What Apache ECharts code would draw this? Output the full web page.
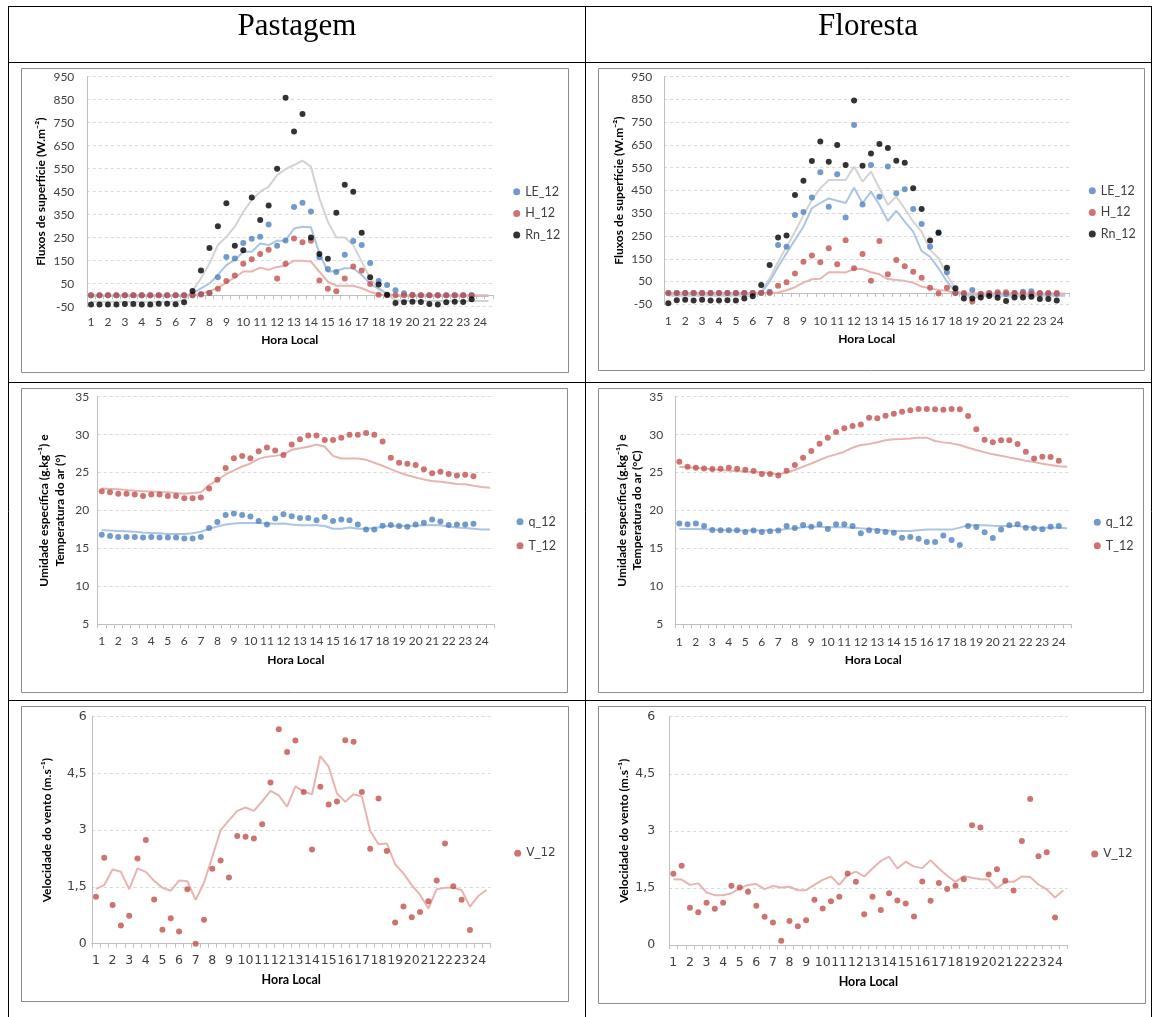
<!DOCTYPE html>
<html><head><meta charset="utf-8">
<script src="https://cdn.jsdelivr.net/npm/echarts@6/dist/echarts.min.js"></script>
<style>html,body{margin:0;padding:0;background:#fff}#c{width:1153px;height:1017px}</style>
</head><body><div id="c"></div>
<script>
// ---------- DATA ----------
const hourLabels = ["1","1:30","2","2:30","3","3:30","4","4:30","5","5:30","6","6:30","7","7:30","8","8:30","9","9:30","10","10:30","11","11:30","12","12:30","13","13:30","14","14:30","15","15:30","16","16:30","17","17:30","18","18:30","19","19:30","20","20:30","21","21:30","22","22:30","23","23:30","24","24:30"];
const headerTitles = ["Pastagem", "Floresta"];

// Pastagem - fluxos
const pastLE = [0,0,0,0,0,0,0,0,0,0,0,0, 0,5,10,78,166,160,227,245,254,307,215,238, 383,402,364,165,114,101,176,236,218,140,62,44,22,9,2,0,0,0,0,0,0,0, null,null];
const pastH  = [0,0,0,0,0,0,0,0,0,0,0,0, 0,3,10,28,62,86,137,156,179,198,73,137, 247,230,237,64,28,17,73,125,107,49,2,0,0,0,0,0,0,0,0,0,0,0, null,null];
const pastRn = [-40,-40,-40,-40,-38,-38,-40,-40,-37,-37,-39,-31, 18,107,205,300,400,215,195,425,327,390,550,858, 712,788,251,179,159,359,480,450,272,78,47,2,-34,-31,-28,-30,-38,-40,-31,-28,-30,-18, null,null];
const pastRnLine = [-28,-28,-28,-28,-28,-28,-28,-28,-28,-28,-27,-22, 18,73,138,218,254,298,363,414,450,472,522,548, 566,585,559,421,320,251,251,218,146,73,34,0,-21,-25,-25,-25,-25,-25,-25,-25,-25,-25,-25,-25];
const pastLELine = [-3,-3,-3,-3,-3,-3,-3,-3,-3,-3,-3,-3, 8,30,51,88,131,153,189,189,225,218,237,237, 290,298,295,182,102,105,117,117,88,51,27,8, -3,-3,-3,-3,-3,-3,-3,-3,-3,-3,-3,-3];
const pastHLine  = [0,0,0,0,0,0,0,0,0,0,0,0,0, 7,17,32,55,77,103,103,120,110,123,128, 150,150,146,102,59,41,41,41,30,15,3, 0,0,0,0,0,0,0,0,0,0,0,0,0];

// Floresta - fluxos
const florLE = [0,0,0,0,0,0,0,0,0,0,0,0, 5,211,203,342,356,419,530,379,521,331,738,389, 562,423,555,438,455,369,303,203,262,91,0,-5,13,-5,-3,-3,-5,0,5,7,-3,-3,-5, null];
const florH  = [0,0,0,0,0,0,0,0,0,0,0,0,0, 32,47,85,137,164,135,196,126,231,108,171, 53,228,82,145,117,93,67,23,-2,23,0,0,-38,-5,0,3,3,0,0,-3,0,0,0, null];
const florRn = [-45,-32,-30,-33,-30,-33,-33,-32,-33,-25,-15, 35,123,243,252,430,493,580,665,576,650,562,845,559, 613,654,637,581,572,460,369,230,266,111,20,-24,-24,-20,-13,-21,-35,-20,-20,-17,-27,-27,-33, null];
const florRnLine = [-12,-12,-12,-12,-12,-12,-12,-12,-12,-12,-12, 7,64,137,203,269,342,408,460,496,496,496,555,489, 533,460,386,423,370,313,269,189,152,79,17,-9,-24, -15,-15,-15,-15,-15,-15,-15,-15,-15,-15,-15];
const florLELine = [-6,-6,-6,-6,-6,-6,-6,-6,-6,-6,-6, 0,50,115,174,233,291,372,395,415,405,395,462,394, 445,386,316,361,313,269,184,159,108,50,6, -8,-8,-8,-8,-8,-8,-8,-8,-8,-8,-8,-8,-8];
const florHLine  = [0,0,0,0,0,0,0,0,0,0,0,0,0, 2,12,25,45,60,62,91,91,90,105,105, 91,82,61,57,53,45,28,20,13,9,0, -3,-3,-3,-3,-3,-3,-3,-3,-3,-3,-3,-3,-3];

// Pastagem - umidade / temperatura
const pastQ = [16.8,16.65,16.5,16.5,16.5,16.45,16.5,16.45,16.45,16.45,16.3,16.3,16.5, 17.7,18.5,19.4,19.6,19.4,19.2,18.6,18.15,18.95,19.5,19.25,19.0,19.0, 18.7,19.15,18.6,18.8,18.7,18.15,17.5,17.5,18.0,18.1,17.95,17.85,18.15,18.4,18.8,18.55,18.1,18.15,18.15,18.25, null,null];
const pastT = [22.55,22.4,22.2,22.2,22.1,21.9,22.1,22.1,21.9,21.9,21.6,21.6,21.7, 22.9,24.05,25.6,26.9,27.2,26.9,27.8,28.3,27.9,27.3,28.7,29.4,29.9, 29.9,29.3,29.3,29.6,30.0,30.0,30.2,30.0,29.1,26.95,26.3,26.15,26.0,25.45,24.9,25.1,24.8,24.6,24.7,24.5, null,null];
const pastQLine = [17.4,17.35,17.3,17.25,17.2,17.1,17.05,17.0,16.9,16.9,16.9,17.0,17.2, 17.6,17.9,18.15,18.3,18.35,18.35,18.35,18.3,18.25,18.3,18.15,18.05,18.05, 18.05,17.95,17.6,17.6,17.75,17.6,17.6,17.7,17.85,18.0,18.0,17.95,18.0,18.05,18.1,18.05,17.9,17.75,17.7,17.6,17.5,17.5];
const pastTLine = [22.9,22.85,22.8,22.7,22.6,22.55,22.5,22.45,22.4,22.3,22.2,22.3,22.4, 23.35,24.0,24.75,25.3,25.8,26.2,26.8,27.1,27.2,27.4,28.0,28.2,28.4, 28.7,28.4,27.2,26.85,26.85,26.85,26.7,26.3,25.9,25.45,25.0,24.65,24.35,24.1,23.9,23.8,23.65,23.5,23.45,23.25,23.1,23.0];

// Floresta - umidade / temperatura
const florQ = [18.27,18.18,18.27,17.96,17.43,17.39,17.39,17.39,17.17,17.35,17.17,17.26,17.35, 17.96,17.7,18.1,17.87,18.18,17.57,18.18,18.18,17.96,17.0,17.39,17.3, 17.17,17.08,16.42,16.51,16.29,15.85,15.85,16.69,16.12,15.46,17.96,17.83,17.13,16.38,17.48,18.05,18.18,17.74,17.65,17.52,17.87,17.96, null];
const florT = [26.44,25.78,25.65,25.55,25.47,25.5,25.65,25.5,25.38,25.2,24.8,24.8,24.6, 25.25,26.0,26.96,27.84,28.8,29.6,30.34,30.83,31.13,31.35,32.23,32.15, 32.5,32.76,33.02,33.2,33.37,33.37,33.33,33.29,33.37,33.33,32.45,30.7,29.33,28.98,29.25,29.25,28.76,27.75,26.87,27.1,27.05,26.57, null];
const florQLine = [17.57,17.57,17.57,17.52,17.48,17.43,17.35,17.35,17.35,17.35,17.35,17.4,17.43, 17.57,17.65,17.78,17.87,17.87,17.78,17.78,17.78,17.74,17.65,17.57,17.48, 17.39,17.3,17.3,17.3,17.39,17.48,17.48,17.48,17.48,17.74,18.05,18.05,18.05,18.0,17.96,17.96,17.96,17.83,17.74,17.74,17.74,17.74,17.65];
const florTLine = [25.73,25.7,25.65,25.55,25.43,25.35,25.25,25.2,25.12,25.08,25.03,24.9,24.77, 25.03,25.34,25.78,26.2,26.65,27.1,27.4,27.75,28.28,28.63,28.76,29.0, 29.25,29.38,29.42,29.5,29.6,29.6,29.16,28.98,28.85,28.63,28.28,27.97,27.67,27.4,27.23,27.0,26.79,26.57,26.4,26.17,26.0,25.82,25.78];

// Vento
const pastV = [1.24,2.27,1.02,0.48,0.74,2.25,2.74,1.17,0.37,0.67,0.32,1.44,0.0,0.63,1.98,2.2,1.75,2.85,2.83,2.78,3.16,4.26,5.67,5.07,5.37,4.01, 2.49,4.15,3.68,3.76,5.38,5.34,4.01,2.51,3.84,2.45,0.56,0.98,0.7,0.84,1.12,1.67,2.65,1.52,1.16,0.36, null,null];
const pastVLine = [1.45,1.55,1.96,1.9,1.44,1.99,1.9,1.66,1.48,1.4,1.67,1.65,1.16,1.61,2.3,3.0,3.26,3.51,3.6,3.51,3.76,4.04,3.92,3.62,4.16,4.02,3.95,4.96,4.68,3.97,3.75,3.95,3.89,2.98,2.63,2.65,2.1,1.86,1.55,1.29,0.93,1.44,1.48,1.48,1.42,0.98,1.26,1.42];
const florV = [1.87,2.08,0.98,0.86,1.11,0.95,1.11,1.56,1.51,1.4,1.03,0.74,0.59,0.11,0.63,0.49,0.65,1.19,0.96,1.15,1.27,1.88,1.66,0.81,1.27,0.92, 1.36,1.17,1.09,0.75,1.67,1.16,1.63,1.47,1.56,1.73,3.15,3.09,1.85,1.99,1.69,1.43,2.73,3.84,2.33,2.44,0.72, null];
const florVLine = [1.73,1.72,1.58,1.62,1.38,1.31,1.31,1.36,1.49,1.58,1.6,1.47,1.55,1.51,1.53,1.44,1.44,1.58,1.71,1.8,1.58,1.84,1.93,1.8,2.01,2.21,2.32,2.01,2.19,2.06,2.02,2.23,2.01,1.82,1.66,1.81,1.77,1.73,1.72,1.49,1.66,1.66,1.8,1.79,1.59,1.46,1.25,1.44];

// ---------- STYLE ----------
const C = {blue:'#4f81bd', red:'#c0504d', black:'#000000', lblue:'#abc5e5', lred:'#e8b4b2', grey:'#d3d3d3',
           axis:'#bfbfbf', grid:'#d9d9d9', text:'#404040'};

const opt = {animation:false, backgroundColor:'#ffffff', grid:[], xAxis:[], yAxis:[], series:[], legend:[], graphic:[]};

function addPanel(c){
  const gi = opt.grid.length;
  opt.grid.push({left:c.left, top:c.top, width:c.width, height:c.height});
  const yi = opt.yAxis.length;
  opt.yAxis.push({type:'value', gridIndex:gi, min:c.ymin, max:c.ymax, interval:c.yint,
    name:c.yname, nameLocation:'middle', nameGap:c.yNameGap, nameRotate:90,
    nameTextStyle:{fontFamily:'Lato', fontWeight:'bold', fontSize:12, color:'#000', lineHeight:c.yNameLH||15},
    axisLine:{show:true, lineStyle:{color:C.axis}}, axisTick:{show:false},
    axisLabel:{margin:c.yLabelMargin, fontFamily:c.font, fontSize:c.fontSize, color:C.text, formatter:c.yfmt},
    splitLine:{show:true, lineStyle:{color:C.grid, type:[3,3]}}});
  const xi = opt.xAxis.length;
  const base = {type:'category', gridIndex:gi, data:hourLabels, boundaryGap:true, position:'bottom', splitLine:{show:false}};
  const labelPart = {axisLabel:{interval:1, margin:c.xLabelMargin, fontFamily:c.font, fontSize:c.fontSize, color:C.text},
    name:'Hora Local', nameLocation:'middle', nameGap:c.xNameGap,
    nameTextStyle:{fontFamily:'Lato', fontWeight:'bold', fontSize:c.xNameSize||12, color:'#000'}};
  const tickPart = {axisTick:{show:true, interval:0, length:4, lineStyle:{color:C.axis}}};
  if (c.zeroAxis) {
    opt.xAxis.push(Object.assign({}, base, tickPart, {axisLine:{show:true, onZero:true, lineStyle:{color:C.axis}}, axisLabel:{show:false}}));
    opt.xAxis.push(Object.assign({}, base, labelPart, {axisLine:{show:false, onZero:false}, axisTick:{show:false}}));
  } else {
    opt.xAxis.push(Object.assign({}, base, tickPart, labelPart, {axisLine:{show:true, onZero:false, lineStyle:{color:C.axis}}}));
  }
  c.lines.forEach(l => opt.series.push({type:'line', name:l.name, xAxisIndex:xi, yAxisIndex:yi, data:l.data,
    showSymbol:false, symbol:'none', lineStyle:{color:l.color, width:2}, itemStyle:{color:l.color}, z:2, silent:true}));
  c.dots.forEach(d => opt.series.push({type:'scatter', name:d.name, xAxisIndex:xi, yAxisIndex:yi, data:d.data,
    symbol:'circle', symbolSize:6, itemStyle:{color:d.color}, z:3, silent:true}));
  opt.legend.push({orient:'vertical', left:c.legLeft, top:c.legTop, padding:0, itemGap:c.legGap, itemWidth:7, itemHeight:7,
    icon:'circle', selectedMode:false, data:c.dots.map(d=>d.name),
    textStyle:{fontFamily:c.font, fontSize:c.legFont||12.5, color:C.text, lineHeight:14}});
}

const fluxName = 'Fluxos de superfície (W.m⁻²)';
// Panel 1: Pastagem fluxes
addPanel({left:86.8, top:76.7, width:406, height:230, ymin:-50, ymax:950, yint:100, zeroAxis:true,
  yname:fluxName, yNameGap:38, yLabelMargin:12.5, xLabelMargin:9, xNameGap:27, font:'Lato', fontSize:12,
  lines:[{name:'Rn_l1',data:pastRnLine,color:C.grey},{name:'LE_l1',data:pastLELine,color:C.lblue},{name:'H_l1',data:pastHLine,color:C.lred}],
  dots:[{name:'LE_12',data:pastLE,color:C.blue},{name:'H_12',data:pastH,color:C.red},{name:'Rn_12',data:pastRn,color:C.black}],
  legLeft:513.2, legTop:184.7, legGap:7.7});
// Panel 3: Floresta fluxes
addPanel({left:664.1, top:76.7, width:405.3, height:227.6, ymin:-50, ymax:950, yint:100, zeroAxis:true,
  yname:fluxName, yNameGap:37, yLabelMargin:12, xLabelMargin:11, xNameGap:29, font:'Lato', fontSize:12,
  lines:[{name:'Rn_l3',data:florRnLine,color:C.grey},{name:'LE_l3',data:florLELine,color:C.lblue},{name:'H_l3',data:florHLine,color:C.lred}],
  dots:[{name:'LE_12',data:florLE,color:C.blue},{name:'H_12',data:florH,color:C.red},{name:'Rn_12',data:florRn,color:C.black}],
  legLeft:1088.8, legTop:183.7, legGap:7.7});
// Panel 2: Pastagem q/T
addPanel({left:97.6, top:396.7, width:396.5, height:227.6, ymin:5, ymax:35, yint:5,
  yname:'Umidade específica (g.kg⁻¹) e\nTemperatura do ar (°)', yNameLH:16.5, yNameGap:29, yLabelMargin:8.5, xLabelMargin:11, xNameGap:30, font:'Lato', fontSize:12,
  lines:[{name:'q_l2',data:pastQLine,color:C.lblue},{name:'T_l2',data:pastTLine,color:C.lred}],
  dots:[{name:'q_12',data:pastQ,color:C.blue},{name:'T_12',data:pastT,color:C.red}],
  legLeft:516.5, legTop:514.7, legGap:10});
// Panel 4: Floresta q/T
addPanel({left:675.2, top:396.7, width:396, height:227.6, ymin:5, ymax:35, yint:5,
  yname:'Umidade específica (g.kg⁻¹) e\nTemperatura do ar (°C)', yNameLH:15.5, yNameGap:30, yLabelMargin:12, xLabelMargin:12, xNameGap:30, font:'Lato', fontSize:12,
  lines:[{name:'q_l4',data:florQLine,color:C.lblue},{name:'T_l4',data:florTLine,color:C.lred}],
  dots:[{name:'q_12',data:florQ,color:C.blue},{name:'T_12',data:florT,color:C.red}],
  legLeft:1093.8, legTop:515.3, legGap:9.5});
const commaFmt = v => String(v).replace('.', ',');
// Panel 5: Pastagem wind
addPanel({left:91.8, top:716.7, width:398.9, height:227, ymin:0, ymax:6, yint:1.5, yfmt:commaFmt,
  yname:'Velocidade do vento (m.s⁻¹)', yNameGap:37, yLabelMargin:5, xLabelMargin:11, xNameGap:30, xNameSize:12.5, font:'DejaVu Sans', fontSize:12.5,
  lines:[{name:'V_l5',data:pastVLine,color:C.lred}],
  dots:[{name:'V_12',data:pastV,color:C.red}],
  legLeft:514.2, legTop:846.3, legGap:10, legFont:12});
// Panel 6: Floresta wind
addPanel({left:669.2, top:716.7, width:398.3, height:228.3, ymin:0, ymax:6, yint:1.5, yfmt:commaFmt,
  yname:'Velocidade do vento (m.s⁻¹)', yNameGap:37, yLabelMargin:14, xLabelMargin:11, xNameGap:30, xNameSize:12.5, font:'DejaVu Sans', fontSize:12.5,
  lines:[{name:'V_l6',data:florVLine,color:C.lred}],
  dots:[{name:'V_12',data:florV,color:C.red}],
  legLeft:1091.2, legTop:847, legGap:10, legFont:12});

// ---------- TABLE FRAME & HEADERS ----------
const G = opt.graphic;
function ln(x1,y1,x2,y2,color,w){G.push({type:'line', silent:true, shape:{x1,y1,x2,y2}, style:{stroke:color, lineWidth:w||1}});}
// chart area borders
[[21.5,68.5,568.5,372.5],[598.5,68.5,1144.5,370.5],[21.5,388.5,567.5,692.5],[598.5,388.5,1143.5,692.5],[21.5,706.5,568.5,1001.5],[598.5,706.5,1145.5,1003.5]]
 .forEach(b=>G.push({type:'rect', silent:true, shape:{x:b[0],y:b[1],width:b[2]-b[0],height:b[3]-b[1]}, style:{fill:null, stroke:'#8c8c8c', lineWidth:1}}));
// table lines
ln(8.5,6,8.5,1017,'#000'); ln(585.5,6,585.5,1017,'#000'); ln(1151.5,6,1151.5,1017,'#000');
ln(8,6.5,1152,6.5,'#000'); ln(8,62.5,1152,62.5,'#000'); ln(8,382.5,1152,382.5,'#000'); ln(8,700.5,1152,700.5,'#000');
G.push({type:'text', silent:true, style:{text:headerTitles[0], x:297, y:27, textAlign:'center', textVerticalAlign:'middle', font:'31px "Liberation Serif"', fill:'#000'}});
G.push({type:'text', silent:true, style:{text:headerTitles[1], x:868, y:27, textAlign:'center', textVerticalAlign:'middle', font:'31px "Liberation Serif"', fill:'#000'}});

const chart = echarts.init(document.getElementById('c'), null, {renderer:'canvas'});
chart.setOption(opt);
</script>
</body></html>
